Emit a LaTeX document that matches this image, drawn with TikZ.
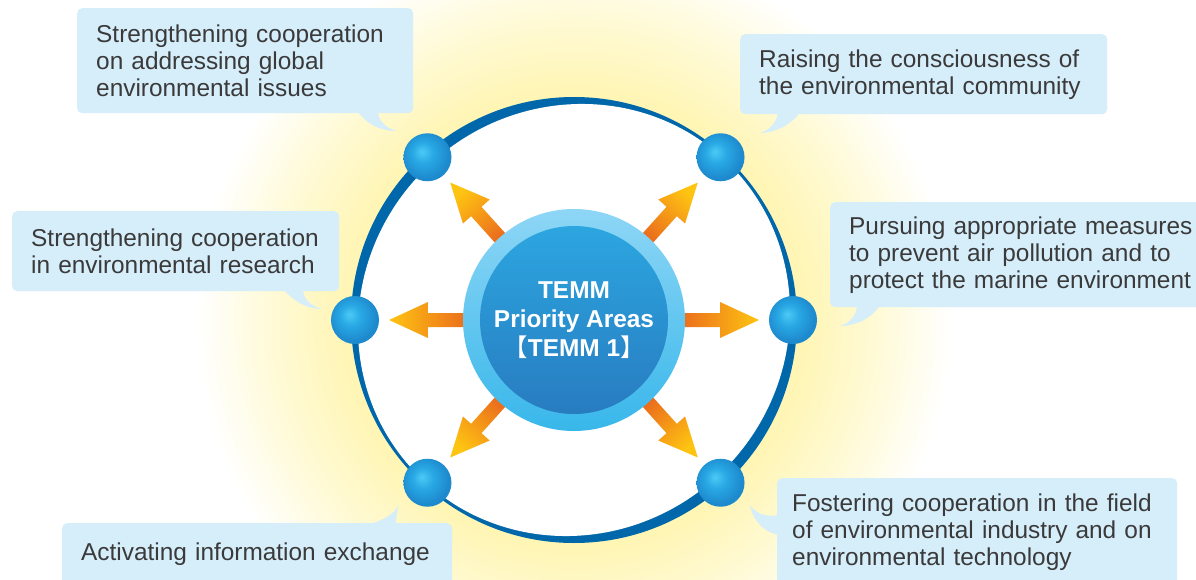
\documentclass[tikz,border=0pt]{standalone}
\usepackage{fontspec}
\setmainfont{Liberation Sans}
\newfontfamily\cjk{Noto Sans CJK JP}
\definecolor{glowy}{RGB}{255,245,180}
\definecolor{glowmid}{RGB}{255,250,214}
\definecolor{ringblue}{RGB}{0,104,170}
\definecolor{bubblefill}{RGB}{214,237,250}
\definecolor{textgray}{RGB}{58,58,58}
\definecolor{halotop}{RGB}{142,214,246}
\definecolor{halobot}{RGB}{56,183,234}
\definecolor{coretop}{RGB}{44,166,224}
\definecolor{corebot}{RGB}{40,124,192}
\definecolor{arrowbase}{RGB}{232,96,30}
\definecolor{arrowtip}{RGB}{254,196,18}
\definecolor{sphhi}{RGB}{76,202,246}
\definecolor{sphmid}{RGB}{40,168,228}
\definecolor{sphlo}{RGB}{30,138,206}
\pgfdeclareradialshading{glow}{\pgfpointorigin}{color(0bp)=(glowy); color(13.5bp)=(glowy); color(18bp)=(glowmid); color(22.5bp)=(white); color(50bp)=(white)}
\pgfdeclareradialshading{sphere}{\pgfpoint{-6bp}{6bp}}{color(0bp)=(sphhi); color(11bp)=(sphmid); color(25bp)=(sphlo); color(50bp)=(sphlo)}
\begin{document}
\begin{tikzpicture}[x=1pt, y=1pt,
    bubble/.style={anchor=north west, fill=bubblefill, rounded corners=5pt, inner xsep=19pt, inner ysep=0pt,
      text=textgray, align=left, font=\fontsize{24.4pt}{27pt}\selectfont},
    ball/.style={circle, minimum size=48pt, inner sep=0pt, shading=sphere},
    tail/.style={fill=bubblefill}]
  \useasboundingbox (-574,-259) rectangle (622,320);
  \clip (-574,-259) rectangle (622,320);
  \fill[white] (-574,-259) rectangle (622,320);
  \shade[shading=glow] (0,0) circle (420);
  \fill[ringblue] (0,0) circle (223);
  \fill[white, rotate=45] (0,0) ellipse (220 and 212);

  \node[bubble, text width=298pt, minimum height=105pt] (areaA) at (-497,312)
    {Strengthening cooperation\\on addressing global\\environmental issues};
  \node[bubble, text width=329pt, minimum height=80pt] (areaB) at (166,286)
    {Raising the consciousness of\\the environmental community};
  \node[bubble, text width=360pt, minimum height=105pt] (areaC) at (256,118)
    {Pursuing appropriate measures\\to prevent air pollution and to\\protect the marine environment};
  \node[bubble, text width=289pt, minimum height=80pt] (areaD) at (-562,109)
    {Strengthening cooperation\\in environmental research};
  \node[bubble, text width=352pt, minimum height=62pt] (areaE) at (-512,-203)
    {Activating information exchange};
  \node[bubble, inner xsep=15pt, text width=370pt, minimum height=108pt] (areaF) at (203,-158)
    {Fostering cooperation in the field\\of environmental industry and on\\environmental technology};

  \coordinate (tipA) at (-177,189);
  \coordinate (tipB) at (186,187);
  \coordinate (tipC) at (266,-6);
  \coordinate (tipD) at (-252,11);
  \coordinate (tipE) at (-175,-184);
  \coordinate (tipF) at (176,-185);
  \fill[tail] (-217,209) .. controls (-204,192) and (-189,189) .. (tipA) .. controls (-189,192) and (-196,200) .. (-196,209) -- cycle;
  \fill[tail] (226,208) .. controls (216,193) and (198,187) .. (tipB) .. controls (196,190) and (203,198) .. (204,208) -- cycle;
  \fill[tail] (306,15) .. controls (296,-1) and (278,-6) .. (tipC) .. controls (276,-3) and (283,5) .. (283,15) -- cycle;
  \fill[tail] (-291,31) .. controls (-278,16) and (-264,11) .. (tipD) .. controls (-264,14) and (-271,22) .. (-271,31) -- cycle;
  \fill[tail] (-206,-205) .. controls (-190,-200) and (-178,-193) .. (tipE) .. controls (-177,-192) and (-178,-198) .. (-178,-205) -- cycle;
  \fill[tail] (205,-215) .. controls (188,-212) and (178,-198) .. (tipF) .. controls (183,-195) and (193,-197) .. (205,-195) -- cycle;

  \foreach \a [evaluate=\a as \b using \a-90] in {0,48,132,180,228,312}
    \shade[top color=arrowtip, bottom color=arrowbase, shading angle=\b]
      ([rotate=\a]95,-7) -- ([rotate=\a]146,-7) -- ([rotate=\a]146,-18) -- ([rotate=\a]185,0)
      -- ([rotate=\a]146,18) -- ([rotate=\a]146,7) -- ([rotate=\a]95,7) -- cycle;

  \node[circle, minimum size=222pt, inner sep=0pt, top color=halotop, bottom color=halobot] (halo) at (0,0) {};
  \node[circle, minimum size=188pt, inner sep=0pt, top color=coretop, bottom color=corebot] (core) at (0,0) {};
  \node[text=white, align=center, font=\bfseries\fontsize{24.4pt}{29pt}\selectfont] (title) at (0,0)
    {TEMM\\Priority Areas\\{\cjk\mdseries 【}TEMM 1{\cjk\mdseries 】}};

  \foreach \a/\n in {0/east,48/northeast,132/northwest,180/west,228/southwest,312/southeast}
    \node[ball] (\n) at (\a:219) {};
\end{tikzpicture}
\end{document}
